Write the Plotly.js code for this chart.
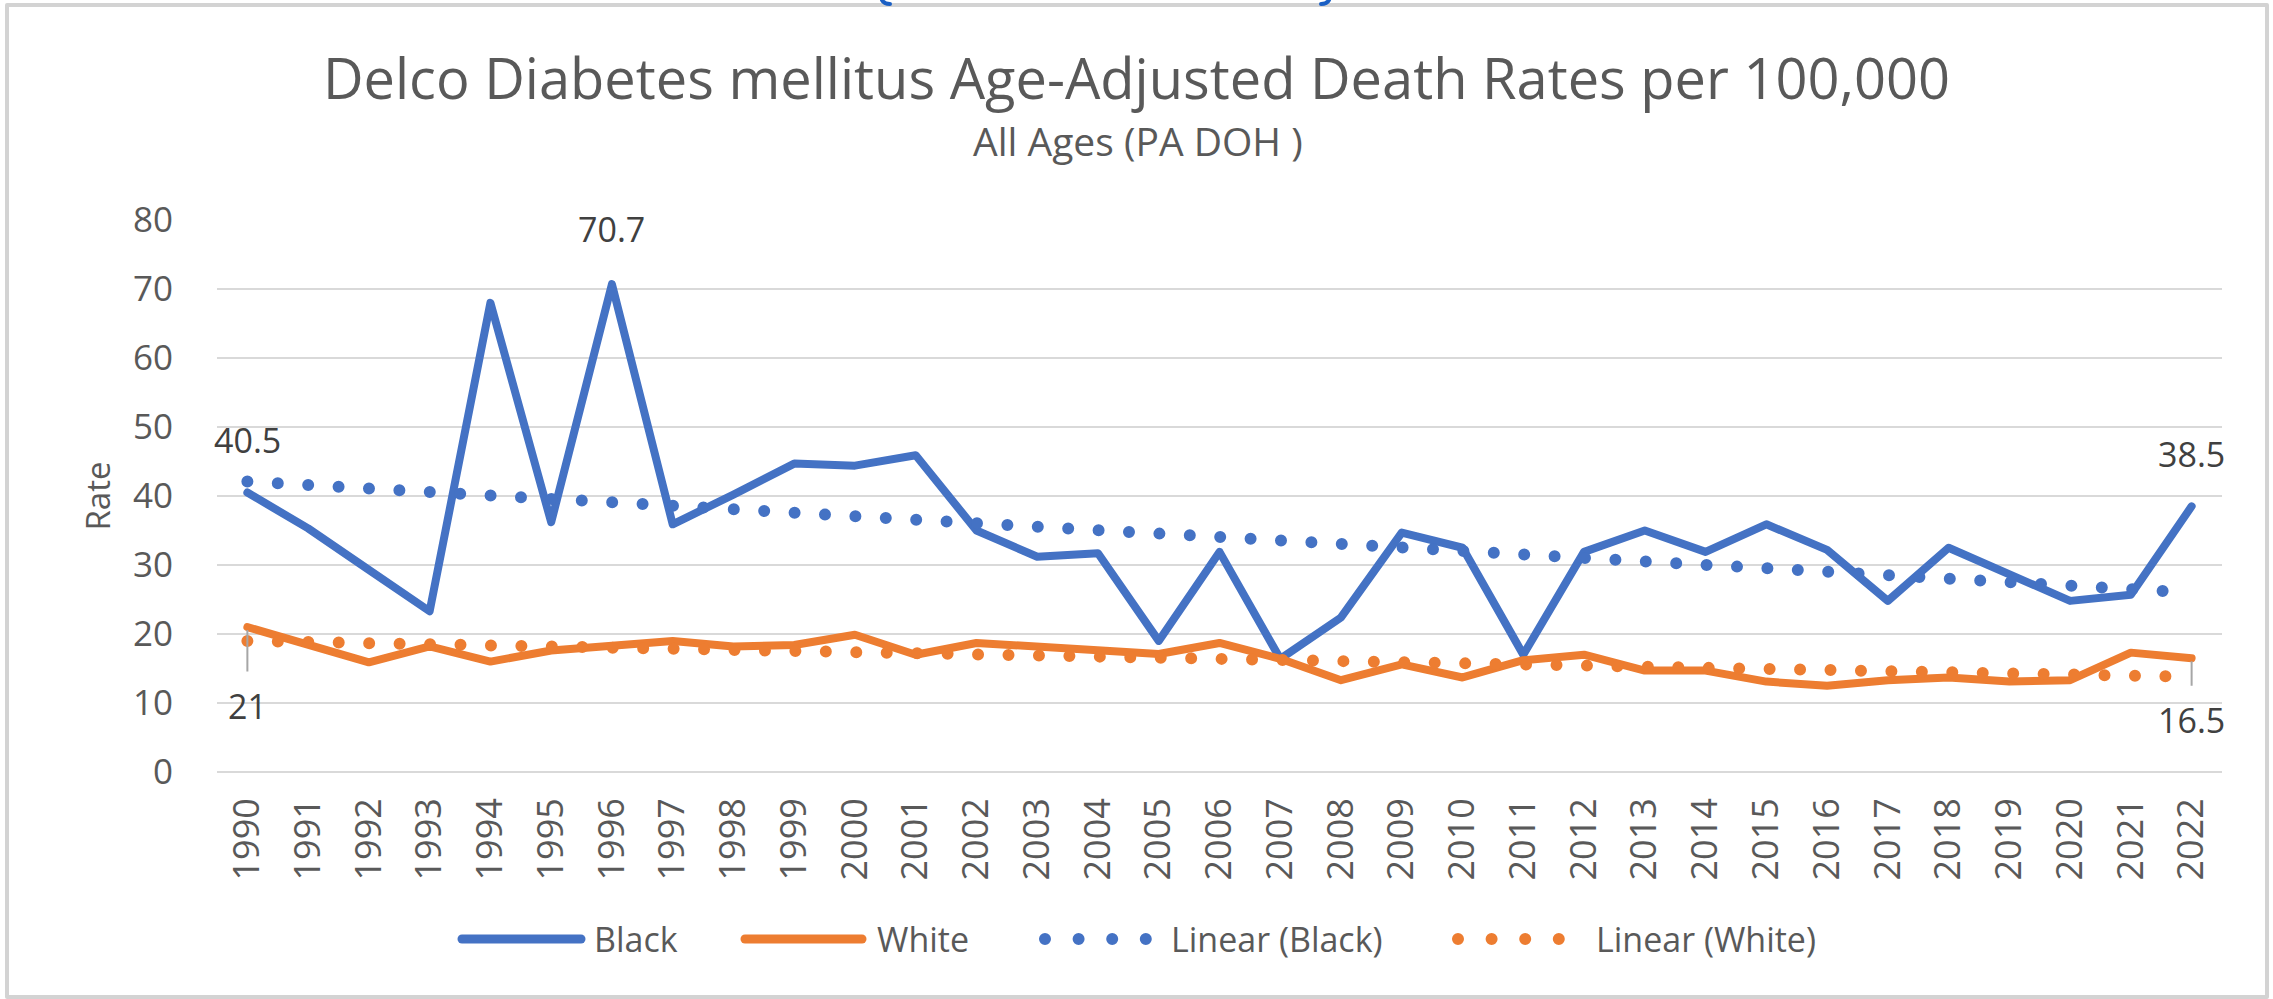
<!DOCTYPE html>
<html>
<head>
<meta charset="utf-8">
<script src="https://cdn.plot.ly/plotly-3.0.1.min.js"></script>
<style>
  html, body { margin: 0; padding: 0; background: #ffffff; }
  #chart { width: 2273px; height: 999px; }
  .scatterlayer .js-line, .shapelayer path { stroke-linecap: round; stroke-linejoin: round; }
</style>
</head>
<body>
<div id="chart"></div>
<script>
// ---------- data ----------
const years = ["1990","1991","1992","1993","1994","1995","1996","1997","1998","1999",
               "2000","2001","2002","2003","2004","2005","2006","2007","2008","2009",
               "2010","2011","2012","2013","2014","2015","2016","2017","2018","2019",
               "2020","2021","2022"];
const black = [40.5, 35.3, 29.3, 23.3, 68.0, 36.2, 70.7, 35.9, 40.2, 44.7,
               44.4, 45.9, 35.0, 31.2, 31.7, 19.0, 31.9, 16.4, 22.4, 34.7,
               32.5, 17.0, 31.9, 35.0, 31.9, 35.9, 32.2, 24.8, 32.5, 28.8,
               24.8, 25.7, 38.5];
const white = [21, 18.4, 15.9, 18.2, 16.0, 17.6, 18.2, 19.0, 18.2, 18.4,
               19.9, 17.0, 18.7, 18.2, 17.5, 17.1, 18.7, 16.4, 13.3, 15.6,
               13.7, 16.2, 17.0, 14.7, 14.7, 13.1, 12.5, 13.3, 13.7, 13.1,
               13.3, 17.3, 16.5];
const trendYears = ["1990", "2022"];
const trendBlack = [42.1, 26.0];
const trendWhite = [19.0, 13.8];
const seriesNames = ["Black", "White", "Linear (Black)", "Linear (White)"];
const yTicks = [0, 10, 20, 30, 40, 50, 60, 70, 80];
const titleText = "Delco Diabetes mellitus Age-Adjusted Death Rates per 100,000";
const subtitleText = "All Ages (PA DOH )";

// ---------- style ----------
const BLUE = "#4472C4", ORANGE = "#ED7D31", TXT = "#595959", LBL = "#404040";
const FONT = "Open Sans, Noto Sans, sans-serif";
const M = {l: 217, r: 51, t: 220, b: 227};
const W = 2273 - M.l - M.r, H = 999 - M.t - M.b;
const px = p => (p - M.l) / W;
const py = p => (999 - M.b - p) / H;
const DOTS = "0px,30.45px";

const traces = [
  {x: years, y: black, name: seriesNames[0], type: "scatter", mode: "lines",
   line: {color: BLUE, width: 8}},
  {x: years, y: white, name: seriesNames[1], type: "scatter", mode: "lines",
   line: {color: ORANGE, width: 8}},
  {x: trendYears, y: trendBlack, name: seriesNames[2], type: "scatter", mode: "lines",
   line: {color: BLUE, width: 12, dash: DOTS}},
  {x: trendYears, y: trendWhite, name: seriesNames[3], type: "scatter", mode: "lines",
   line: {color: ORANGE, width: 12, dash: DOTS}}
];

// data labels (category axis positions are indices)
const last = years.length - 1;
const imax = black.indexOf(Math.max(...black));
const annotations = [
  {x: 0, y: black[0], text: String(black[0]), yshift: 53},
  {x: imax, y: black[imax], text: String(black[imax]), yshift: 55},
  {x: last, y: black[last], text: String(black[last]), yshift: 52}
].map(a => Object.assign({xref: "x", yref: "y", showarrow: false, yanchor: "middle",
  font: {family: FONT, size: 34, color: LBL}}, a));
[[0, 79], [last, 62]].forEach(([i, ay]) => {
  annotations.push({x: i, y: white[i], xref: "x", yref: "y", text: String(white[i]),
    showarrow: true, arrowhead: 0, arrowwidth: 2, arrowcolor: "#a6a6a6", ax: 0, ay: ay,
    startstandoff: 10, standoff: 3, font: {family: FONT, size: 34, color: LBL}});
});

// subtitle
annotations.push({xref: "paper", yref: "paper", x: px(1138), y: py(140),
  xanchor: "center", yanchor: "middle", showarrow: false, text: subtitleText,
  font: {family: FONT, size: 39, color: TXT}});

// custom legend
const legendY = 939;
const legItems = [
  {name: seriesNames[0], color: BLUE, x0: 462, x1: 581, tx: 592, dots: false},
  {name: seriesNames[1], color: ORANGE, x0: 745, x1: 862, tx: 875, dots: false},
  {name: seriesNames[2], color: BLUE, x0: 1045, x1: 1147, tx: 1169, dots: true},
  {name: seriesNames[3], color: ORANGE, x0: 1458, x1: 1562, tx: 1594, dots: true}
];
const shapes = [];
legItems.forEach(it => {
  shapes.push({type: "line", xref: "paper", yref: "paper",
    x0: px(it.x0), x1: px(it.x1), y0: py(legendY), y1: py(legendY),
    line: {color: it.color, width: it.dots ? 12 : 9, dash: it.dots ? "0px,33.6px" : "solid"}});
  annotations.push({xref: "paper", yref: "paper", x: px(it.tx), y: py(legendY),
    xanchor: "left", yanchor: "middle", showarrow: false, text: it.name,
    font: {family: FONT, size: 34, color: TXT}});
});
// outer frame
shapes.push({type: "rect", xref: "paper", yref: "paper", x0: px(7), x1: px(2267),
  y0: py(997), y1: py(5), line: {color: "#d3d3d3", width: 4}, layer: "below"});
// cut-off blue fragments at top edge
shapes.push({type: "path", xref: "paper", yref: "paper",
  path: `M${px(882)},${py(0)} Q${px(884)},${py(4)} ${px(890)},${py(4)}`, line: {color: "#1a5fc4", width: 4}});
shapes.push({type: "path", xref: "paper", yref: "paper",
  path: `M${px(1329)},${py(0)} Q${px(1327)},${py(4)} ${px(1321)},${py(4)}`, line: {color: "#1a5fc4", width: 4}});

const layout = {
  width: 2273, height: 999,
  margin: M,
  paper_bgcolor: "#ffffff", plot_bgcolor: "#ffffff",
  showlegend: false,
  font: {family: FONT, color: TXT},
  title: {
    text: titleText,
    font: {family: FONT, size: 56, color: TXT},
    x: 0.5, xanchor: "center", xref: "container",
    y: 1 - 60 / 999, yanchor: "top", yref: "container"
  },
  xaxis: {
    type: "category", range: [-0.5, years.length - 0.5],
    tickangle: -90, tickfont: {family: FONT, size: 36, color: TXT},
    showgrid: false, zeroline: false, showline: false, ticks: "",
    ticklabelstandoff: 18, fixedrange: true
  },
  yaxis: {
    range: [0, 80], tickvals: yTicks, ticktext: yTicks.map(String),
    tickfont: {family: FONT, size: 35, color: TXT},
    showgrid: true, gridcolor: "#d9d9d9", gridwidth: 2,
    zeroline: true, zerolinecolor: "#d9d9d9", zerolinewidth: 2,
    showline: false, ticks: "", ticklabelstandoff: 43,
    title: {text: "Rate", font: {family: FONT, size: 33, color: TXT}, standoff: 12},
    fixedrange: true
  },
  annotations: annotations,
  shapes: shapes
};

Plotly.newPlot("chart", traces, layout, {displayModeBar: false, staticPlot: true});
</script>
</body>
</html>
